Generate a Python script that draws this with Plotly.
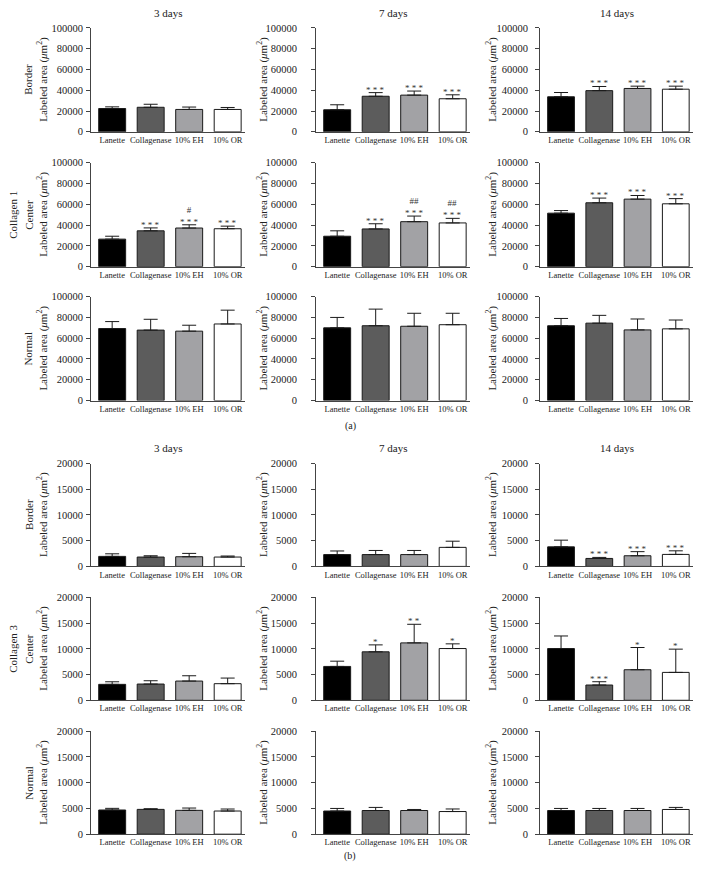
import plotly.graph_objects as go

# ---------------- data ----------------
categories = ["Lanette", "Collagenase", "10% EH", "10% OR"]
day_labels = ["3 days", "7 days", "14 days"]

# Collagen 1 (panel a) – means and upper error (SD) values
col1_border_3d = [22400, 23600, 21500, 21500]
col1_border_3d_err = [1600, 2900, 2300, 1900]
col1_border_7d = [21200, 34200, 35300, 31800]
col1_border_7d_err = [4800, 3500, 3900, 3800]
col1_border_14d = [33700, 39600, 41700, 41000]
col1_border_14d_err = [4100, 4000, 2200, 2900]
col1_center_3d = [26500, 34500, 37200, 36500]
col1_center_3d_err = [2800, 2800, 3100, 2500]
col1_center_7d = [29300, 36300, 43300, 42100]
col1_center_7d_err = [5200, 5000, 5400, 4400]
col1_center_14d = [51500, 61500, 65000, 60500]
col1_center_14d_err = [2500, 4500, 3500, 5000]
col1_normal_3d = [69300, 67800, 66800, 73700]
col1_normal_3d_err = [6700, 10400, 5700, 13300]
col1_normal_7d = [70000, 72000, 71500, 73000]
col1_normal_7d_err = [10000, 16000, 12500, 11000]
col1_normal_14d = [72000, 74500, 68000, 69000]
col1_normal_14d_err = [7000, 7500, 10500, 8500]

# Collagen 3 (panel b)
col3_border_3d = [1950, 1820, 1880, 1820]
col3_border_3d_err = [500, 250, 650, 200]
col3_border_7d = [2300, 2300, 2300, 3700]
col3_border_7d_err = [700, 800, 800, 1200]
col3_border_14d = [3800, 1550, 2070, 2330]
col3_border_14d_err = [1300, 200, 800, 700]
col3_center_3d = [3100, 3160, 3740, 3230]
col3_center_3d_err = [500, 640, 1030, 1090]
col3_center_7d = [6580, 9420, 11160, 10060]
col3_center_7d_err = [1020, 1350, 3610, 910]
col3_center_14d = [10060, 2970, 5940, 5420]
col3_center_14d_err = [2440, 640, 4320, 4520]
col3_normal_3d = [4700, 4820, 4630, 4500]
col3_normal_3d_err = [320, 130, 450, 390]
col3_normal_7d = [4500, 4600, 4600, 4400]
col3_normal_7d_err = [500, 600, 200, 500]
col3_normal_14d = [4600, 4600, 4600, 4800]
col3_normal_14d_err = [400, 400, 400, 400]

# significance marks
none_sig = ["", "", "", ""]
sig_c1_border_7d = ["", "* * *", "* * *", "* * *"]
sig_c1_border_14d = ["", "* * *", "* * *", "* * *"]
sig_c1_center_3d = ["", "* * *", "#<br>* * *", "* * *"]
sig_c1_center_7d = ["", "* * *", "##<br>* * *", "##<br>* * *"]
sig_c1_center_14d = ["", "* * *", "* * *", "* * *"]
sig_c3_border_14d = ["", "* * *", "* * *", "* * *"]
sig_c3_center_7d = ["", "*", "* *", "*"]
sig_c3_center_14d = ["", "* * *", "*", "*"]

c1_ticks = [0, 20000, 40000, 60000, 80000, 100000]
c3_ticks = [0, 5000, 10000, 15000, 20000]

# ---------------- layout geometry ----------------
W, H = 701, 883
# the photographed page is slightly squeezed vertically; these undo it
Y_SCALE, Y_SHIFT = 0.9884, 4.1
bar_colors = ["#000000", "#5c5c5c", "#a2a2a5", "#ffffff"]
FONT = "Liberation Serif"
TXT = "#222222"

col_px = [(91, 245), (316, 470), (540, 693)]
row_px = [(27, 131), (162, 266), (296, 400), (463, 566), (597, 700), (731, 834)]
ylabel_x = [43, 263, 492]
tick_standoff = [1, 12, 5]

panels = [
    [(col1_border_3d, col1_border_3d_err, none_sig),
     (col1_border_7d, col1_border_7d_err, sig_c1_border_7d),
     (col1_border_14d, col1_border_14d_err, sig_c1_border_14d)],
    [(col1_center_3d, col1_center_3d_err, sig_c1_center_3d),
     (col1_center_7d, col1_center_7d_err, sig_c1_center_7d),
     (col1_center_14d, col1_center_14d_err, sig_c1_center_14d)],
    [(col1_normal_3d, col1_normal_3d_err, none_sig),
     (col1_normal_7d, col1_normal_7d_err, none_sig),
     (col1_normal_14d, col1_normal_14d_err, none_sig)],
    [(col3_border_3d, col3_border_3d_err, none_sig),
     (col3_border_7d, col3_border_7d_err, none_sig),
     (col3_border_14d, col3_border_14d_err, sig_c3_border_14d)],
    [(col3_center_3d, col3_center_3d_err, none_sig),
     (col3_center_7d, col3_center_7d_err, sig_c3_center_7d),
     (col3_center_14d, col3_center_14d_err, sig_c3_center_14d)],
    [(col3_normal_3d, col3_normal_3d_err, none_sig),
     (col3_normal_7d, col3_normal_7d_err, none_sig),
     (col3_normal_14d, col3_normal_14d_err, none_sig)],
]


def px_x(p):
    return p / W


def px_y(q):
    p = (q - Y_SHIFT) / Y_SCALE
    return 1 - p / H


fig = go.Figure()
layout = dict(
    width=W, height=H, margin=dict(l=0, r=0, t=0, b=0, pad=0),
    paper_bgcolor="white", plot_bgcolor="white", showlegend=False,
    font=dict(family=FONT, color=TXT),
)
annotations = []


def paper_text(x, y, text, size, angle=0):
    annotations.append(dict(
        x=px_x(x), y=px_y(y), xref="paper", yref="paper", text=text,
        textangle=angle, showarrow=False, xanchor="center", yanchor="middle",
        font=dict(size=size, family=FONT, color=TXT),
    ))


k = 0
for r in range(6):
    ymax = 100000 if r < 3 else 20000
    ticks = c1_ticks if r < 3 else c3_ticks
    for c in range(3):
        k += 1
        means, errs, sigs = panels[r][c]
        xa = "x" if k == 1 else f"x{k}"
        ya = "y" if k == 1 else f"y{k}"
        fig.add_trace(go.Bar(
            x=categories, y=means, xaxis=xa, yaxis=ya, width=0.7,
            marker=dict(color=bar_colors, line=dict(color="#1a1a1a", width=1)),
            error_y=dict(type="data", array=errs, arrayminus=[0] * 4,
                         symmetric=False, color="#1a1a1a", thickness=1, width=7),
            hoverinfo="x+y",
        ))
        x0, x1 = col_px[c]
        y0, y1 = row_px[r]
        suffix = "" if k == 1 else str(k)
        layout["xaxis" + suffix] = dict(
            domain=[px_x(x0), px_x(x1)], anchor=ya, range=[-0.55, 3.45],
            showline=True, linecolor="#444444", linewidth=1, ticks="",
            tickfont=dict(size=8.5, family=FONT, color=TXT), showgrid=False,
            fixedrange=True,
        )
        layout["yaxis" + suffix] = dict(
            domain=[px_y(y1), px_y(y0)], anchor=xa, range=[0, ymax],
            tickvals=ticks, ticktext=[str(t) for t in ticks],
            showline=True, linecolor="#444444", linewidth=1, ticks="outside",
            ticklen=4, tickcolor="#444444", showgrid=False, zeroline=False,
            tickfont=dict(size=10.5, family=FONT, color=TXT),
            ticklabelstandoff=tick_standoff[c],
            fixedrange=True,
        )
        for i, s in enumerate(sigs):
            if s:
                annotations.append(dict(
                    x=categories[i], y=means[i] + errs[i], xref=xa, yref=ya,
                    text=s, showarrow=False, xanchor="center", yanchor="bottom",
                    yshift=-4,
                    font=dict(size=9, family=FONT, color="#333333"),
                ))
        paper_text(ylabel_x[c], (y0 + y1) / 2,
                   "Labeled area (<i>μ</i>m<sup>2</sup>)", 11, -90)

for c in range(3):
    xc = (col_px[c][0] + col_px[c][1]) / 2
    for ty in (12, 447):
        paper_text(xc, ty, day_labels[c], 11)

row_labels = [
    [("Border", 28)],
    [("Collagen 1", 13), ("Center", 29)],
    [("Normal", 28)],
    [("Border", 29)],
    [("Collagen 3", 13), ("Center", 29)],
    [("Normal", 29)],
]
for r in range(6):
    yc = (row_px[r][0] + row_px[r][1]) / 2
    for txt, xp in row_labels[r]:
        paper_text(xp, yc, txt, 11, -90)

paper_text(350, 425, "(a)", 10)
paper_text(350, 856, "(b)", 10)

layout["annotations"] = annotations
fig.update_layout(**layout)
fig.write_html("out.html", config={"displayModeBar": False},
               post_script="document.body.style.margin='0px';"
                           "document.body.style.overflow='hidden';")
